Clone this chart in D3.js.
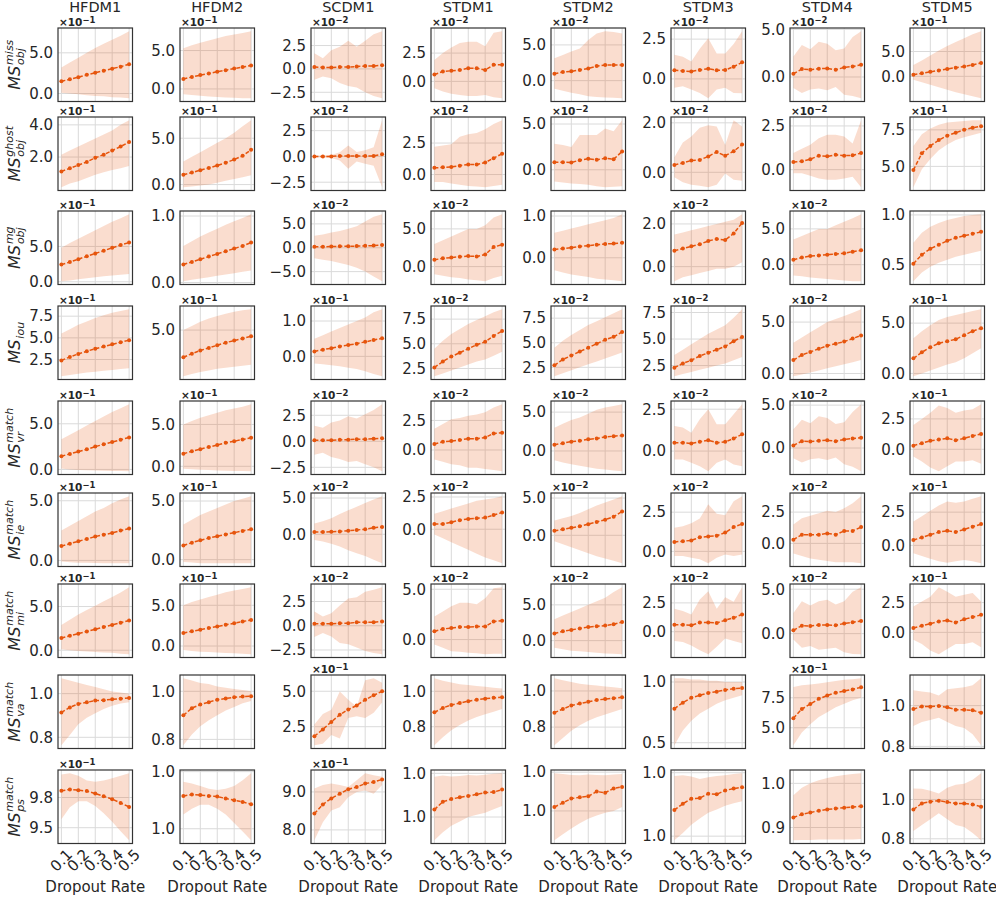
<!DOCTYPE html>
<html>
<head>
<meta charset="utf-8">
<script src="https://cdn.jsdelivr.net/npm/d3@7"></script>
<style>
  body { margin: 0; background: #fff; }
  text { font-family: "DejaVu Sans", sans-serif; fill: #262626; }
</style>
</head>
<body>
<div id="chart"></div>
<script>
const dropoutRates = [0.1, 0.15, 0.2, 0.25, 0.3, 0.35, 0.4, 0.45, 0.5];
const xTicks = [0.1, 0.2, 0.3, 0.4, 0.5];
const models = ["HFDM1", "HFDM2", "SCDM1", "STDM1", "STDM2", "STDM3", "STDM4", "STDM5"];
const metricSup = ["miss", "ghost", "mg", "", "match", "match", "match", "match", "match"];
const metricSub = ["obj", "obj", "obj", "iou", "vr", "ie", "mi", "va", "ps"];

// values are in the units shown on each panel (scaled by 10^exp when exp is set)
// ---- MS_obj^miss
const missExp = [-1, -1, -2, -2, -2, -2, -2, -1];
const missTicks = [[0, 5], [0, 5], [-2.5, 0, 2.5], [0, 2.5], [0, 5], [0, 2.5], [0, 5], [0, 5]];
const missMean = [
  [1.5, 1.75, 2.0, 2.3, 2.55, 2.8, 3.05, 3.3, 3.6],
  [1.3, 1.55, 1.8, 2.0, 2.25, 2.45, 2.65, 2.85, 3.05],
  [0.2, 0.15, 0.15, 0.2, 0.2, 0.25, 0.3, 0.3, 0.4],
  [0.6, 0.88, 0.94, 1.0, 1.17, 1.17, 1.0, 1.46, 1.46],
  [0.97, 1.2, 1.3, 1.5, 1.7, 2.04, 2.2, 2.2, 2.2],
  [0.54, 0.5, 0.47, 0.56, 0.64, 0.54, 0.56, 0.77, 1.04],
  [0.34, 0.83, 0.76, 0.87, 0.9, 0.76, 1.0, 1.1, 1.28],
  [0.33, 0.6, 0.9, 1.2, 1.5, 1.75, 2.0, 2.3, 2.7]
];
const missLo = [
  [0.1, 0.0, -0.1, -0.2, -0.3, -0.35, -0.45, -0.5, -0.57],
  [-0.7, -0.8, -0.9, -1.0, -1.05, -1.1, -1.15, -1.2, -1.2],
  [-1.17, -0.81, -1.0, -1.5, -1.84, -2.0, -2.5, -2.9, -3.13],
  [-0.6, -0.9, -1.1, -1.2, -1.3, -1.3, -1.2, -1.4, -1.48],
  [-1.15, -1.4, -1.7, -1.9, -2.2, -2.3, -2.35, -2.4, -2.45],
  [-0.56, -0.46, -0.67, -0.88, -1.21, -0.67, -0.56, -0.88, -0.9],
  [-1.15, -1.67, -1.3, -1.2, -1.4, -1.06, -1.85, -2.0, -2.22],
  [-0.7, -1.2, -1.7, -2.2, -2.7, -3.2, -3.6, -4.0, -4.4]
];
const missHi = [
  [3.2, 3.8, 4.4, 5.0, 5.6, 6.1, 6.6, 7.1, 7.64],
  [5.3, 5.7, 6.0, 6.3, 6.6, 6.9, 7.1, 7.3, 7.5],
  [1.67, 1.14, 2.0, 2.37, 3.0, 2.37, 3.0, 3.7, 4.02],
  [1.9, 2.5, 3.0, 3.4, 3.5, 3.5, 3.1, 4.3, 4.42],
  [3.15, 3.6, 4.07, 4.5, 5.7, 6.6, 6.9, 6.8, 6.6],
  [1.52, 1.4, 1.1, 1.9, 2.56, 1.6, 1.6, 2.2, 2.99],
  [2.15, 3.36, 2.9, 3.7, 3.5, 2.8, 3.0, 4.2, 4.79],
  [2.3, 3.2, 4.2, 5.2, 6.1, 6.9, 7.7, 8.5, 9.07]
];

// ---- MS_obj^ghost
const ghostExp = [-1, -1, -2, -2, -2, -2, -2, -1];
const ghostTicks = [[2, 4], [0, 5], [-2.5, 0, 2.5], [0, 2.5], [0, 5], [0, 2], [0, 2.5], [5, 7.5]];
const ghostMean = [
  [1.11, 1.3, 1.5, 1.7, 1.95, 2.15, 2.4, 2.65, 2.93],
  [1.07, 1.3, 1.55, 1.8, 2.05, 2.35, 2.7, 3.1, 3.75],
  [0.0, 0.0, 0.0, 0.05, 0.05, 0.05, 0.05, 0.05, 0.2],
  [0.53, 0.57, 0.6, 0.7, 0.8, 0.8, 0.95, 1.3, 1.65],
  [0.83, 0.83, 0.8, 1.05, 1.2, 1.1, 1.25, 1.15, 2.0],
  [0.3, 0.38, 0.48, 0.5, 0.64, 0.82, 0.67, 0.85, 1.12],
  [0.44, 0.48, 0.6, 0.8, 0.76, 0.85, 0.8, 0.82, 0.95],
  [4.75, 5.9, 6.4, 6.8, 7.1, 7.3, 7.5, 7.65, 7.75]
];
const ghostLo = [
  [0.13, 0.35, 0.5, 0.7, 0.9, 1.05, 1.2, 1.3, 1.45],
  [-0.28, -0.2, -0.1, 0.0, 0.2, 0.4, 0.6, 0.8, 1.0],
  [-0.1, -0.1, -0.15, -0.4, -1.2, -0.5, -0.7, -0.9, -2.98],
  [-0.6, -0.6, -0.7, -0.8, -0.9, -0.95, -1.0, -0.9, -0.8],
  [-1.27, -1.4, -1.5, -1.55, -1.63, -1.8, -1.9, -1.85, -1.8],
  [-0.2, -0.4, -0.5, -0.54, -0.6, -0.5, -0.05, -0.3, -0.34],
  [-0.2, -0.2, -0.35, -0.5, -0.57, -0.57, -0.5, -0.4, -1.0],
  [3.58, 4.8, 5.5, 6.1, 6.5, 6.8, 7.0, 7.15, 7.3]
];
const ghostHi = [
  [2.14, 2.4, 2.65, 2.9, 3.15, 3.4, 3.65, 4.0, 4.28],
  [2.5, 3.0, 3.5, 4.0, 4.5, 5.0, 5.6, 6.3, 6.93],
  [0.1, 0.1, 0.15, 0.4, 1.06, 0.43, 0.6, 0.9, 3.5],
  [2.2, 2.3, 2.4, 3.0, 3.2, 3.3, 3.6, 4.0, 4.3],
  [2.83, 2.7, 2.5, 3.8, 3.8, 3.8, 4.5, 4.2, 5.4],
  [0.61, 1.2, 1.45, 1.8, 1.9, 1.85, 1.1, 2.1, 1.85],
  [0.95, 1.2, 1.42, 1.8, 2.0, 2.0, 1.9, 1.5, 2.82],
  [6.4, 7.2, 7.6, 7.85, 8.0, 8.05, 8.1, 8.15, 8.15]
];

// ---- MS_obj^mg
const mgExp = [-1, null, -2, -2, null, -2, -2, null];
const mgTicks = [[0, 5], [0, 1], [-5, 0, 5], [0, 5], [0, 1], [0, 2], [0, 5], [0.5, 1]];
const mgMean = [
  [2.43, 2.8, 3.2, 3.6, 4.0, 4.4, 4.8, 5.2, 5.56],
  [0.27, 0.31, 0.35, 0.39, 0.43, 0.47, 0.51, 0.55, 0.6],
  [0.2, 0.2, 0.25, 0.3, 0.3, 0.35, 0.4, 0.45, 0.6],
  [0.9, 1.1, 1.2, 1.3, 1.4, 1.35, 1.6, 2.6, 2.9],
  [0.2, 0.22, 0.24, 0.27, 0.29, 0.31, 0.33, 0.34, 0.36],
  [0.75, 0.85, 0.95, 1.05, 1.2, 1.3, 1.25, 1.55, 2.05],
  [0.7, 1.0, 1.2, 1.3, 1.4, 1.5, 1.6, 1.8, 2.0],
  [0.51, 0.6, 0.66, 0.7, 0.74, 0.77, 0.79, 0.81, 0.83]
];
const mgLo = [
  [0.09, 0.2, 0.35, 0.5, 0.65, 0.8, 0.9, 1.0, 1.1],
  [0.02, 0.04, 0.06, 0.08, 0.1, 0.12, 0.14, 0.16, 0.18],
  [-2.2, -2.5, -2.8, -3.2, -3.6, -4.2, -5.0, -6.0, -7.0],
  [-1.0, -1.2, -1.4, -1.5, -1.7, -1.8, -1.93, -1.5, -1.2],
  [-0.3, -0.35, -0.4, -0.43, -0.46, -0.5, -0.52, -0.54, -0.56],
  [-0.68, -0.5, -0.4, -0.3, -0.2, -0.1, -0.1, 0.0, 0.2],
  [-1.5, -1.6, -1.8, -1.9, -2.0, -2.1, -2.2, -2.3, -2.3],
  [0.334, 0.42, 0.48, 0.52, 0.55, 0.58, 0.6, 0.62, 0.64]
];
const mgHi = [
  [4.8, 5.5, 6.1, 6.7, 7.3, 7.9, 8.5, 9.0, 9.54],
  [0.55, 0.62, 0.69, 0.75, 0.81, 0.87, 0.92, 0.97, 1.025],
  [2.5, 2.8, 3.2, 3.5, 4.0, 4.5, 5.5, 6.5, 7.0],
  [3.0, 3.5, 4.0, 4.5, 5.0, 5.0, 5.5, 6.5, 6.93],
  [0.6, 0.65, 0.7, 0.75, 0.8, 0.85, 0.9, 0.95, 1.04],
  [1.5, 1.6, 1.7, 1.8, 1.9, 2.0, 2.1, 2.2, 2.45],
  [3.5, 4.0, 4.5, 5.0, 5.0, 5.5, 6.0, 6.5, 7.03],
  [0.72, 0.82, 0.88, 0.92, 0.95, 0.97, 0.99, 1.0, 1.006]
];

// ---- MS_iou
const iouExp = [-1, -1, -1, -2, -2, -2, -2, -1];
const iouTicks = [[2.5, 5, 7.5], [0, 5], [0, 1], [2.5, 5, 7.5], [2.5, 5, 7.5], [2.5, 5, 7.5], [0, 5], [0, 5]];
const iouMean = [
  [2.4, 2.8, 3.15, 3.45, 3.75, 4.0, 4.25, 4.5, 4.73],
  [2.4, 2.75, 3.05, 3.3, 3.55, 3.8, 4.0, 4.2, 4.4],
  [0.14, 0.19, 0.23, 0.28, 0.32, 0.36, 0.41, 0.46, 0.51],
  [2.6, 3.2, 3.7, 4.1, 4.5, 4.9, 5.2, 5.8, 6.3],
  [2.7, 3.3, 3.7, 4.1, 4.5, 4.9, 5.3, 5.6, 6.1],
  [2.3, 2.7, 3.0, 3.4, 3.7, 4.0, 4.3, 4.8, 5.2],
  [1.3, 1.8, 2.1, 2.4, 2.7, 2.9, 3.1, 3.4, 3.7],
  [1.5, 2.1, 2.6, 3.0, 3.2, 3.4, 3.8, 4.2, 4.5]
];
const iouLo = [
  [0.58, 0.7, 0.85, 1.0, 1.1, 1.2, 1.3, 1.4, 1.5],
  [0.6, 0.8, 1.0, 1.15, 1.3, 1.4, 1.5, 1.6, 1.7],
  [-0.2, -0.22, -0.25, -0.28, -0.32, -0.36, -0.42, -0.5, -0.56],
  [1.72, 2.0, 2.3, 2.6, 2.9, 3.2, 3.4, 3.8, 4.2],
  [1.6, 1.9, 2.2, 2.5, 2.8, 3.1, 3.4, 3.7, 4.0],
  [1.5, 1.7, 1.9, 2.1, 2.3, 2.5, 2.7, 3.0, 3.3],
  [-0.26, -0.1, 0.1, 0.3, 0.5, 0.7, 0.9, 1.1, 1.3],
  [-0.27, 0.0, 0.3, 0.6, 0.9, 1.1, 1.5, 2.0, 2.5]
];
const iouHi = [
  [5.5, 6.0, 6.5, 6.9, 7.3, 7.6, 7.9, 8.1, 8.29],
  [5.0, 5.4, 5.8, 6.1, 6.35, 6.55, 6.75, 6.9, 6.98],
  [0.5, 0.6, 0.7, 0.8, 0.9, 1.0, 1.1, 1.25, 1.33],
  [4.5, 5.3, 6.0, 6.5, 7.0, 7.4, 7.8, 8.2, 8.49],
  [4.5, 5.2, 5.8, 6.3, 6.8, 7.2, 7.6, 8.0, 8.4],
  [3.5, 4.0, 4.5, 5.0, 5.5, 5.9, 6.3, 7.0, 7.8],
  [3.0, 3.5, 4.0, 4.5, 5.0, 5.3, 5.6, 5.9, 6.24],
  [3.5, 4.2, 4.8, 5.3, 5.6, 5.8, 6.0, 6.2, 6.37]
];

// ---- MS_vr^match
const vrExp = [-1, -1, -2, -2, -2, -2, -2, -1];
const vrTicks = [[0, 5], [0, 5], [-2.5, 0, 2.5], [0, 2.5], [0, 5], [0, 2.5], [0, 5], [0, 2.5]];
const vrMean = [
  [1.45, 1.7, 1.95, 2.2, 2.5, 2.75, 3.0, 3.25, 3.5],
  [1.5, 1.8, 2.05, 2.3, 2.55, 2.8, 3.0, 3.2, 3.4],
  [0.1, 0.1, 0.1, 0.15, 0.15, 0.2, 0.2, 0.25, 0.3],
  [0.5, 0.7, 0.75, 0.85, 0.95, 0.95, 1.05, 1.4, 1.45],
  [0.8, 1.0, 1.2, 1.3, 1.5, 1.6, 1.8, 1.9, 2.0],
  [0.5, 0.5, 0.45, 0.55, 0.65, 0.5, 0.55, 0.75, 1.0],
  [0.3, 0.8, 0.75, 0.85, 0.9, 0.8, 1.0, 1.1, 1.2],
  [0.3, 0.5, 0.7, 0.8, 0.9, 0.75, 0.9, 1.1, 1.25]
];
const vrLo = [
  [0.1, 0.0, -0.05, -0.1, -0.12, -0.15, -0.17, -0.18, -0.19],
  [-0.3, -0.35, -0.4, -0.45, -0.5, -0.52, -0.55, -0.57, -0.58],
  [-1.3, -1.1, -1.5, -1.7, -2.0, -1.9, -2.2, -2.5, -2.87],
  [-0.8, -1.0, -1.2, -1.3, -1.5, -1.5, -1.6, -1.7, -1.79],
  [-1.2, -1.5, -1.7, -1.9, -2.1, -2.3, -2.4, -2.5, -2.6],
  [-0.5, -0.5, -0.7, -0.9, -1.2, -0.7, -0.5, -0.8, -0.9],
  [-1.2, -1.7, -1.3, -1.2, -1.4, -1.1, -1.9, -2.2, -2.7],
  [-0.6, -1.0, -1.5, -1.8, -1.4, -1.0, -1.0, -0.9, -1.2]
];
const vrHi = [
  [3.3, 3.8, 4.3, 4.8, 5.3, 5.8, 6.3, 6.7, 7.13],
  [5.0, 5.4, 5.8, 6.1, 6.4, 6.7, 6.9, 7.1, 7.4],
  [1.5, 1.3, 1.8, 2.0, 2.4, 2.2, 2.6, 3.0, 3.55],
  [1.8, 2.2, 2.6, 2.7, 2.9, 3.0, 3.2, 3.6, 3.86],
  [3.0, 3.5, 4.0, 4.3, 4.8, 5.3, 5.6, 5.8, 6.0],
  [1.5, 1.4, 1.1, 1.9, 2.5, 1.6, 1.6, 2.2, 2.79],
  [2.2, 3.3, 2.9, 3.7, 3.5, 2.8, 3.0, 4.2, 5.09],
  [2.0, 2.5, 3.0, 3.6, 3.4, 3.0, 3.2, 3.3, 3.7]
];

// ---- MS_ie^match
const ieExp = [-1, -1, -2, -2, -2, -2, -2, -1];
const ieTicks = [[0, 5], [0, 5], [0, 5], [0, 2.5], [0, 5], [0, 2.5], [0, 2.5], [0, 2.5]];
const ieMean = [
  [1.2, 1.4, 1.6, 1.8, 2.0, 2.15, 2.3, 2.5, 2.67],
  [1.2, 1.45, 1.65, 1.85, 2.0, 2.15, 2.3, 2.45, 2.6],
  [0.3, 0.3, 0.35, 0.4, 0.5, 0.6, 0.7, 0.9, 1.0],
  [0.4, 0.4, 0.55, 0.7, 0.8, 0.85, 0.9, 1.1, 1.3],
  [0.6, 0.8, 1.0, 1.2, 1.5, 1.8, 2.1, 2.5, 3.2],
  [0.6, 0.65, 0.7, 0.9, 0.95, 1.0, 1.2, 1.55, 1.75],
  [0.3, 0.7, 0.7, 0.7, 0.8, 0.7, 1.0, 1.0, 1.3],
  [0.4, 0.6, 0.8, 1.0, 1.1, 1.0, 1.2, 1.4, 1.6]
];
const ieLo = [
  [-0.1, -0.15, -0.2, -0.2, -0.22, -0.23, -0.23, -0.23, -0.23],
  [-0.2, -0.25, -0.3, -0.3, -0.3, -0.3, -0.3, -0.3, -0.3],
  [-0.8, -1.0, -1.3, -1.7, -2.2, -2.6, -3.0, -3.5, -3.98],
  [-0.4, -0.7, -1.0, -1.3, -1.6, -1.9, -2.2, -2.4, -2.63],
  [-0.8, -1.2, -1.6, -2.0, -2.4, -2.8, -3.1, -3.4, -3.74],
  [-0.3, -0.3, -0.4, -0.5, -0.75, -0.4, -0.2, -0.3, -0.2],
  [-0.8, -1.0, -1.2, -1.3, -1.4, -1.5, -1.5, -1.5, -1.58],
  [-0.6, -0.8, -1.0, -1.2, -1.3, -1.2, -1.1, -1.2, -1.34]
];
const ieHi = [
  [2.5, 2.9, 3.3, 3.7, 4.1, 4.4, 4.8, 5.1, 5.37],
  [3.0, 3.4, 3.8, 4.1, 4.4, 4.7, 5.0, 5.2, 5.4],
  [1.5, 1.8, 2.2, 2.8, 3.3, 3.8, 4.3, 4.8, 5.23],
  [1.2, 1.4, 1.6, 1.8, 2.0, 2.2, 2.3, 2.4, 2.55],
  [2.0, 2.3, 2.6, 3.0, 3.5, 4.0, 4.4, 4.8, 5.23],
  [1.5, 1.6, 1.8, 2.1, 3.0, 2.4, 2.3, 3.2, 3.51],
  [1.5, 2.0, 2.2, 2.4, 2.6, 2.5, 2.8, 3.2, 3.76],
  [1.8, 2.2, 2.6, 3.0, 3.3, 3.2, 3.3, 3.5, 3.69]
];

// ---- MS_mi^match
const miExp = [-1, -1, -2, -2, -2, -2, -2, -1];
const miTicks = [[0, 5], [0, 5], [-2.5, 0, 2.5], [0, 5], [0, 5], [0, 2.5], [0, 5], [0, 2.5]];
const miMean = [
  [1.41, 1.65, 1.9, 2.15, 2.4, 2.65, 2.9, 3.15, 3.41],
  [1.6, 1.8, 2.0, 2.2, 2.4, 2.6, 2.8, 3.0, 3.2],
  [0.2, 0.2, 0.2, 0.25, 0.25, 0.35, 0.35, 0.35, 0.45],
  [0.82, 1.05, 1.15, 1.25, 1.25, 1.3, 1.3, 1.8, 1.87],
  [1.0, 1.3, 1.5, 1.7, 1.9, 2.0, 2.1, 2.3, 2.6],
  [0.6, 0.6, 0.55, 0.8, 0.8, 0.75, 1.0, 1.2, 1.5],
  [0.37, 0.9, 0.86, 0.97, 0.97, 0.93, 1.15, 1.27, 1.42],
  [0.37, 0.56, 0.72, 0.92, 1.0, 0.83, 1.1, 1.28, 1.47]
];
const miLo = [
  [0.1, 0.0, -0.1, -0.15, -0.2, -0.25, -0.3, -0.4, -0.45],
  [-0.5, -0.6, -0.7, -0.75, -0.8, -0.85, -0.9, -0.95, -1.0],
  [-1.15, -0.75, -1.1, -1.77, -1.9, -2.25, -2.6, -2.8, -2.93],
  [-0.49, -0.82, -1.15, -1.2, -1.3, -1.35, -1.45, -1.42, -1.4],
  [-1.0, -1.2, -1.4, -1.5, -1.6, -1.7, -1.8, -1.85, -1.89],
  [-0.8, -0.9, -1.2, -1.6, -1.95, -1.3, -0.6, -0.8, -1.0],
  [-0.67, -1.6, -1.4, -1.8, -1.7, -1.6, -2.1, -2.3, -2.31],
  [-0.61, -0.97, -1.53, -1.83, -1.4, -0.97, -0.97, -0.83, -1.25]
];
const miHi = [
  [2.9, 3.5, 4.1, 4.6, 5.1, 5.6, 6.1, 6.6, 7.2],
  [5.0, 5.4, 5.7, 6.0, 6.3, 6.6, 6.8, 7.0, 7.2],
  [1.46, 0.95, 1.3, 2.1, 2.8, 2.95, 3.5, 3.7, 3.96],
  [2.3, 2.8, 3.3, 3.65, 3.65, 3.5, 4.1, 5.1, 5.19],
  [3.0, 3.5, 4.0, 4.5, 5.0, 5.5, 6.0, 6.8, 7.45],
  [2.0, 1.8, 1.5, 2.8, 3.5, 2.0, 3.0, 2.6, 3.85],
  [2.32, 3.64, 3.16, 3.64, 3.8, 3.27, 3.64, 4.7, 5.21],
  [2.17, 2.6, 3.0, 3.78, 3.4, 3.0, 3.15, 3.3, 2.6]
];

// ---- MS_va^match
const vaExp = [null, null, -1, null, null, null, -1, null];
const vaTicks = [[0.8, 1.0], [0.8, 1.0], [2.5, 5], [0.8, 1.0], [0.8, 1.0], [0.5, 1.0], [5, 7.5], [0.8, 1.0]];
const vaMean = [
  [0.914, 0.937, 0.953, 0.96, 0.968, 0.97, 0.974, 0.977, 0.98],
  [0.9, 0.93, 0.945, 0.955, 0.965, 0.97, 0.975, 0.978, 0.98],
  [1.83, 2.31, 2.84, 3.35, 3.71, 4.0, 4.4, 4.71, 5.0],
  [0.881, 0.906, 0.923, 0.934, 0.944, 0.952, 0.958, 0.963, 0.967],
  [0.88, 0.9, 0.92, 0.93, 0.94, 0.95, 0.955, 0.96, 0.965],
  [0.78, 0.83, 0.87, 0.89, 0.91, 0.92, 0.935, 0.945, 0.95],
  [5.8, 6.56, 6.98, 7.41, 7.69, 7.92, 8.06, 8.2, 8.37],
  [0.983, 0.996, 0.995, 0.998, 0.992, 0.98, 0.98, 0.977, 0.965]
];
const vaLo = [
  [0.764, 0.81, 0.86, 0.89, 0.91, 0.93, 0.945, 0.955, 0.96],
  [0.776, 0.82, 0.855, 0.88, 0.9, 0.92, 0.935, 0.95, 0.96],
  [1.2, 1.3, 1.91, 1.67, 3.12, 3.24, 3.12, 3.48, 4.2],
  [0.696, 0.74, 0.78, 0.81, 0.835, 0.855, 0.87, 0.885, 0.9],
  [0.7, 0.74, 0.78, 0.81, 0.835, 0.855, 0.87, 0.885, 0.9],
  [0.48, 0.6, 0.68, 0.74, 0.78, 0.82, 0.85, 0.87, 0.89],
  [3.55, 4.6, 5.3, 5.9, 6.3, 6.7, 7.0, 7.3, 7.5],
  [0.9, 0.92, 0.93, 0.94, 0.92, 0.9, 0.89, 0.86, 0.806]
];
const vaHi = [
  [1.07, 1.06, 1.05, 1.04, 1.03, 1.02, 1.01, 1.005, 1.0],
  [1.054, 1.045, 1.035, 1.03, 1.02, 1.015, 1.01, 1.005, 1.0],
  [2.65, 3.4, 3.7, 4.98, 4.4, 3.9, 5.77, 5.91, 5.6],
  [1.073, 1.06, 1.05, 1.04, 1.035, 1.03, 1.025, 1.02, 1.015],
  [1.07, 1.06, 1.05, 1.04, 1.035, 1.03, 1.025, 1.02, 1.015],
  [1.03, 1.03, 1.02, 1.02, 1.01, 1.01, 1.0, 1.0, 1.0],
  [8.4, 8.55, 8.6, 8.7, 8.8, 8.9, 9.0, 9.05, 9.12],
  [1.075, 1.07, 1.065, 1.05, 1.08, 1.085, 1.09, 1.1, 1.134]
];

// ---- MS_ps^match
const psExp = [-1, null, -1, null, null, null, null, null];
const psTicks = [[9.5, 9.75], [0.99, 1.0], [8, 9], [0.99, 1.0], [0.99, 1.0], [0.99, 1.0], [0.9, 1.0], [0.8, 1.0]];
const psMean = [
  [9.805, 9.817, 9.811, 9.803, 9.783, 9.761, 9.736, 9.705, 9.672],
  [0.99575, 0.99598, 0.9959, 0.99575, 0.99563, 0.9953, 0.995, 0.9947, 0.9943],
  [8.43, 8.67, 8.83, 8.95, 9.07, 9.13, 9.22, 9.26, 9.33],
  [0.9917, 0.9935, 0.9941, 0.9945, 0.9948, 0.9952, 0.9956, 0.9957, 0.9963],
  [0.991, 0.9921, 0.9932, 0.9935, 0.9938, 0.995, 0.9947, 0.9958, 0.9962],
  [0.99413, 0.9951, 0.9959, 0.996, 0.9967, 0.9966, 0.9972, 0.9975, 0.9977],
  [0.9227, 0.93, 0.934, 0.938, 0.941, 0.943, 0.945, 0.9465, 0.948],
  [0.949, 0.98, 0.989, 0.994, 0.987, 0.98, 0.98, 0.975, 0.963]
];
const psLo = [
  [9.57, 9.67, 9.72, 9.72, 9.68, 9.62, 9.55, 9.47, 9.397],
  [0.9925, 0.9935, 0.9942, 0.9942, 0.9935, 0.9925, 0.991, 0.9895, 0.988],
  [7.73, 8.2, 8.51, 8.6, 8.86, 9.0, 9.04, 8.95, 9.18],
  [0.9847, 0.9865, 0.988, 0.989, 0.99, 0.9905, 0.991, 0.9918, 0.9925],
  [0.98246, 0.984, 0.9855, 0.9868, 0.988, 0.9888, 0.9895, 0.99, 0.991],
  [0.98937, 0.9905, 0.9918, 0.9928, 0.9937, 0.9942, 0.9948, 0.9952, 0.9955],
  [0.8714, 0.872, 0.872, 0.873, 0.873, 0.873, 0.873, 0.873, 0.874],
  [0.84, 0.87, 0.9, 0.93, 0.9, 0.87, 0.86, 0.83, 0.793]
];
const psHi = [
  [9.94, 9.95, 9.93, 9.89, 9.88, 9.89, 9.91, 9.93, 9.95],
  [0.99823, 0.9979, 0.9975, 0.997, 0.9968, 0.997, 0.9975, 0.9985, 0.9997],
  [9.09, 9.18, 9.22, 9.18, 9.13, 9.31, 9.49, 9.44, 9.4],
  [0.9992, 0.9995, 0.9993, 0.9994, 0.9996, 0.9995, 0.9997, 0.9999, 1.0],
  [0.9997, 0.9995, 0.9993, 0.9992, 0.9994, 0.9993, 0.9992, 0.9994, 0.9995],
  [0.9995, 0.9996, 0.9994, 0.999, 0.9993, 0.9995, 0.9996, 0.9998, 0.9999],
  [0.973, 0.99, 1.0, 1.007, 1.012, 1.016, 1.019, 1.021, 1.0227],
  [1.056, 1.055, 1.045, 1.03, 1.06, 1.075, 1.08, 1.1, 1.133]
];

const rows = [
  { mean: missMean, lo: missLo, hi: missHi, ticks: missTicks, exp: missExp },
  { mean: ghostMean, lo: ghostLo, hi: ghostHi, ticks: ghostTicks, exp: ghostExp },
  { mean: mgMean, lo: mgLo, hi: mgHi, ticks: mgTicks, exp: mgExp },
  { mean: iouMean, lo: iouLo, hi: iouHi, ticks: iouTicks, exp: iouExp },
  { mean: vrMean, lo: vrLo, hi: vrHi, ticks: vrTicks, exp: vrExp },
  { mean: ieMean, lo: ieLo, hi: ieHi, ticks: ieTicks, exp: ieExp },
  { mean: miMean, lo: miLo, hi: miHi, ticks: miTicks, exp: miExp },
  { mean: vaMean, lo: vaLo, hi: vaHi, ticks: vaTicks, exp: vaExp },
  { mean: psMean, lo: psLo, hi: psHi, ticks: psTicks, exp: psExp }
];

// layout
const width = 996;
const height = 897;
const colLeft = [58, 180, 311, 431, 551, 671, 790, 910];
const rowTop = [28, 117, 211, 306, 401, 493, 584, 675, 770];
const pw = 74.5;
const ph = 73.5;
const orange = "#e6550d";
const fmt = d3.format(".1f");

const svg = d3.select("#chart")
  .append("svg")
  .attr("width", width)
  .attr("height", height);

const x = d3.scaleLinear().domain([0.08, 0.52]).range([0, pw]);

// column titles
svg.selectAll(".title")
  .data(models)
  .enter()
  .append("text")
  .attr("class", "title")
  .attr("x", (d, i) => colLeft[i] + pw / 2)
  .attr("y", 12)
  .attr("text-anchor", "middle")
  .attr("font-size", 14.5)
  .text(d => d);

rows.forEach((m, r) => {
  models.forEach((name, c) => {
    const g = svg.append("g")
      .attr("transform", `translate(${colLeft[c]},${rowTop[r]})`);

    const lo = m.lo[c];
    const hi = m.hi[c];
    const mean = m.mean[c];
    const ymin = d3.min(lo);
    const ymax = d3.max(hi);
    const pad = (ymax - ymin) * 0.05;
    const y = d3.scaleLinear().domain([ymin - pad, ymax + pad]).range([ph, 0]);
    const ticks = m.ticks[c].filter(t => t >= y.domain()[0] && t <= y.domain()[1]);

    // grid
    g.selectAll(".gx")
      .data(xTicks)
      .enter()
      .append("line")
      .attr("x1", d => x(d)).attr("x2", d => x(d))
      .attr("y1", 0).attr("y2", ph)
      .attr("stroke", "#dadada")
      .attr("stroke-width", 1);

    g.selectAll(".gy")
      .data(ticks)
      .enter()
      .append("line")
      .attr("x1", 0).attr("x2", pw)
      .attr("y1", d => y(d)).attr("y2", d => y(d))
      .attr("stroke", "#dadada")
      .attr("stroke-width", 1);

    const pts = dropoutRates.map((d, i) => ({ x: d, m: mean[i], lo: lo[i], hi: hi[i] }));

    g.append("path")
      .datum(pts)
      .attr("fill", orange)
      .attr("fill-opacity", 0.2)
      .attr("d", d3.area().x(d => x(d.x)).y0(d => y(d.lo)).y1(d => y(d.hi)));

    g.append("path")
      .datum(pts)
      .attr("fill", "none")
      .attr("stroke", orange)
      .attr("stroke-width", 1.5)
      .attr("stroke-dasharray", "4,2")
      .attr("d", d3.line().x(d => x(d.x)).y(d => y(d.m)));

    g.selectAll(".pt")
      .data(pts)
      .enter()
      .append("circle")
      .attr("cx", d => x(d.x))
      .attr("cy", d => y(d.m))
      .attr("r", 2)
      .attr("fill", orange);

    g.append("rect")
      .attr("width", pw)
      .attr("height", ph)
      .attr("fill", "none")
      .attr("stroke", "#333")
      .attr("stroke-width", 1.2);

    const yAxis = g.append("g")
      .call(d3.axisLeft(y).tickValues(ticks).tickFormat(fmt).tickSize(0).tickPadding(5));
    yAxis.select(".domain").remove();
    yAxis.selectAll("text")
      .attr("font-size", 15)
      .attr("font-family", "DejaVu Sans")
      .attr("fill", "#262626");

    if (m.exp[c] != null) {
      const t = g.append("text")
        .attr("x", 1)
        .attr("y", -2.5)
        .attr("font-size", 10.5)
        .attr("font-weight", "bold")
        .text("\u00d710");
      t.append("tspan")
        .attr("dy", -3)
        .attr("font-size", 8.5)
        .text("\u2212" + Math.abs(m.exp[c]));
    }

    if (r === rows.length - 1) {
      g.selectAll(".xt")
        .data(xTicks)
        .enter()
        .append("text")
        .attr("transform", d => `translate(${x(d)},${ph + 17}) rotate(-45)`)
        .attr("text-anchor", "middle")
        .attr("dominant-baseline", "central")
        .attr("font-size", 15)
        .text(d => fmt(d));

      g.append("text")
        .attr("x", pw / 2)
        .attr("y", ph + 48)
        .attr("text-anchor", "middle")
        .attr("font-size", 15)
        .text("Dropout Rate");
    }
  });

  // row label  MS^sup_sub, rotated
  const cy = rowTop[r] + ph / 2;
  const lab = svg.append("g")
    .attr("transform", `translate(20,${cy}) rotate(-90)`);
  const inner = lab.append("g");
  const ms = inner.append("text")
    .attr("x", 0).attr("y", 0)
    .attr("font-size", 16)
    .attr("font-style", "italic")
    .text("MS");
  const wMS = ms.node().getComputedTextLength();
  let wExtra = 0;
  if (metricSup[r]) {
    const sp = inner.append("text")
      .attr("x", wMS + 1).attr("y", -7)
      .attr("font-size", 11)
      .attr("font-style", "italic")
      .text(metricSup[r]);
    wExtra = Math.max(wExtra, sp.node().getComputedTextLength());
  }
  const sb = inner.append("text")
    .attr("x", wMS + 1).attr("y", 4)
    .attr("font-size", 11)
    .attr("font-style", "italic")
    .text(metricSub[r]);
  wExtra = Math.max(wExtra, sb.node().getComputedTextLength());
  inner.attr("transform", `translate(${-(wMS + 1 + wExtra) / 2},0)`);
});
</script>
